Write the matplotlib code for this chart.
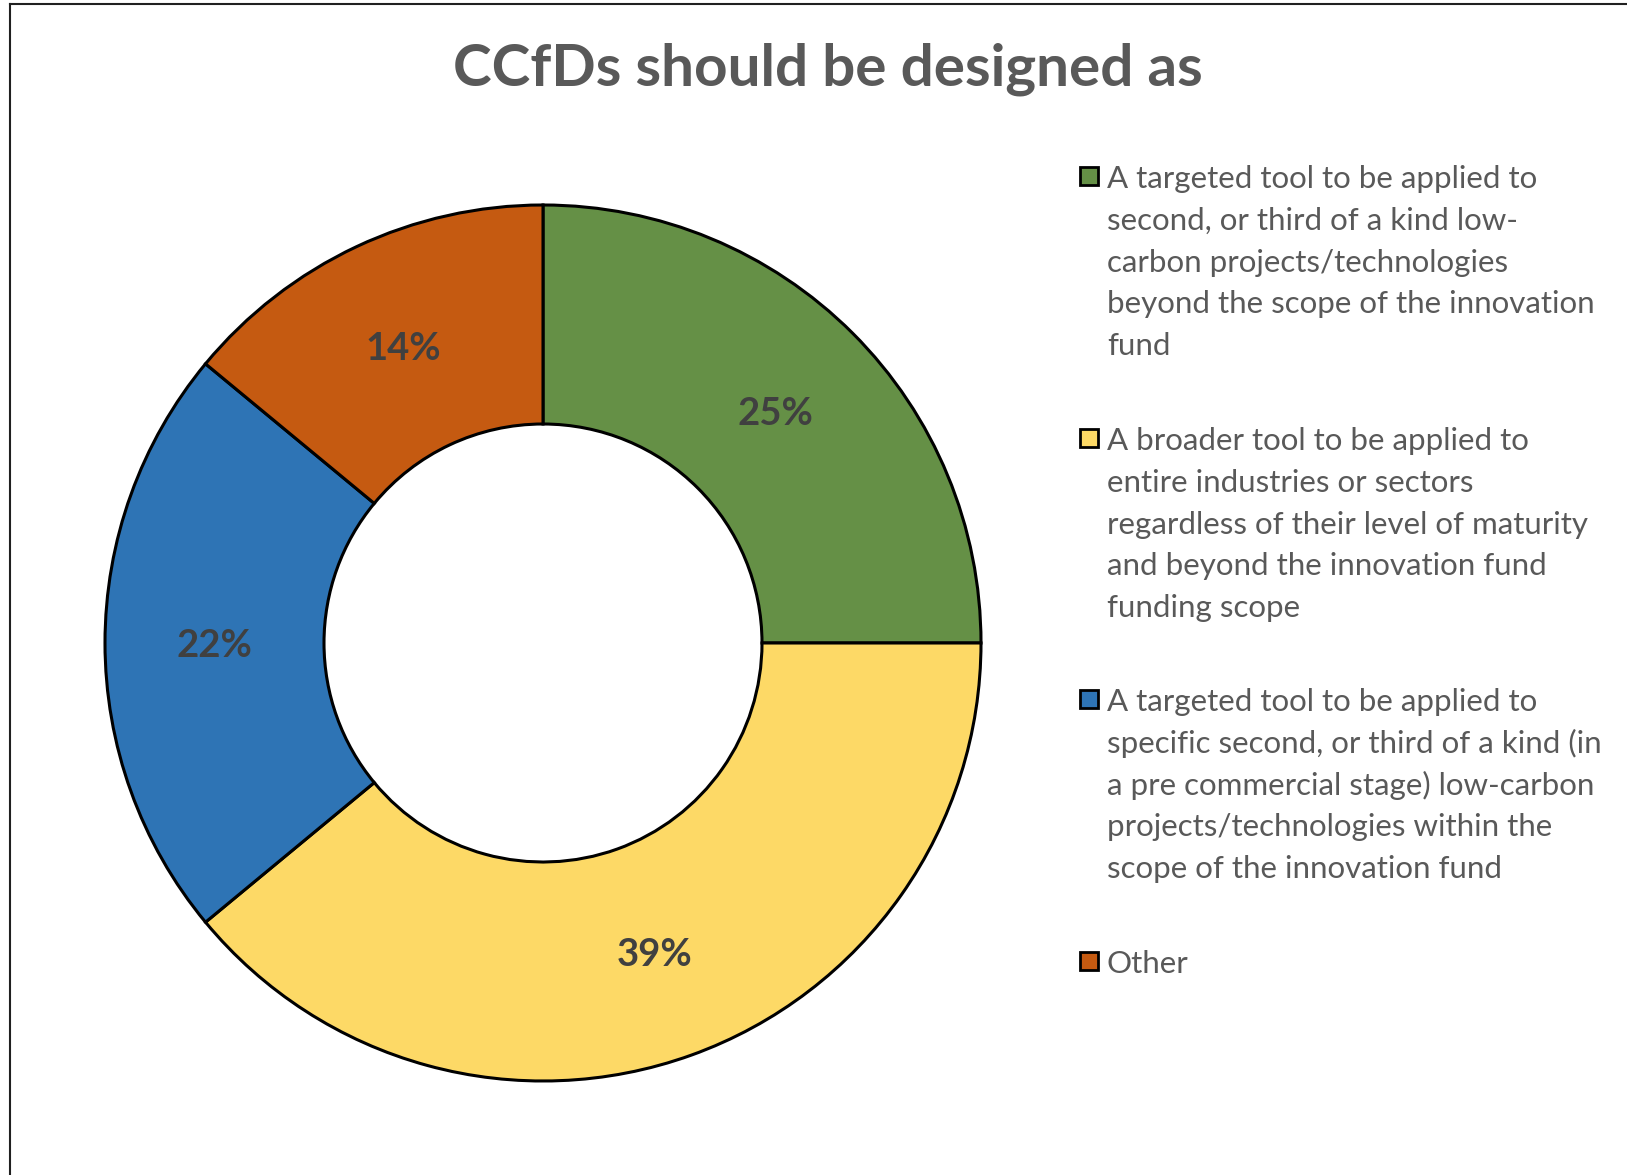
import matplotlib.pyplot as plt
from matplotlib.lines import Line2D
from matplotlib.patches import Rectangle

plt.rcParams['font.family'] = ['Lato', 'DejaVu Sans']

title = 'CCfDs should be designed as'
labels = [
    'A targeted tool to be applied to\nsecond, or third of a kind low-\ncarbon projects/technologies\nbeyond the scope of the innovation\nfund',
    'A broader tool to be applied to\nentire industries or sectors\nregardless of their level of maturity\nand beyond the innovation fund\nfunding scope',
    'A targeted tool to be applied to\nspecific second, or third of a kind (in\na pre commercial stage) low-carbon\nprojects/technologies within the\nscope of the innovation fund',
    'Other',
]
shares = [25, 39, 22, 14]
colors = ['#659046', '#FDD966', '#2E74B5', '#C55A11']

W, H = 1627, 1175
fig = plt.figure(figsize=(W / 100, H / 100), dpi=100)
ax = fig.add_axes([0, 0, 1, 1])

# donut, clockwise from 12 o'clock
wedges, texts, autotexts = ax.pie(
    shares, colors=colors, startangle=90, counterclock=False,
    radius=438, center=(543, H - 643),
    wedgeprops=dict(width=219, edgecolor='black', linewidth=2.2),
    autopct=lambda p: f'{p:.0f}%', pctdistance=0.75,
    textprops=dict(color='#404040', fontsize=27.5, fontweight='bold'))
for t in autotexts:
    t.set_va('center_baseline')

ax.set_xlim(0, W)
ax.set_ylim(0, H)
ax.set_aspect('equal')
ax.axis('off')

fig.text(828 / W, 1 - 69 / H, title, ha='center', va='center',
         fontsize=42, fontweight='bold', color='#595959')

# legend on the right
entry_y = [179, 441, 702, 964]
line_h = 41.8
for y0, lab, col in zip(entry_y, labels, colors):
    ax.add_patch(Rectangle((1080, H - y0 - 6), 18, 18, facecolor=col,
                           edgecolor='black', linewidth=2))
    for k, line in enumerate(lab.split('\n')):
        ax.text(1107, H - y0 - k * line_h, line, ha='left', va='center',
                fontsize=22.5, color='#595959')

# chart border (top and left edges)
fig.add_artist(Line2D([9.5 / W, 1], [1 - 4 / H, 1 - 4 / H], color='#202020', lw=1.5))
fig.add_artist(Line2D([9.5 / W, 9.5 / W], [0, 1 - 4 / H], color='#202020', lw=1.5))

plt.savefig('out.png', dpi=100)
